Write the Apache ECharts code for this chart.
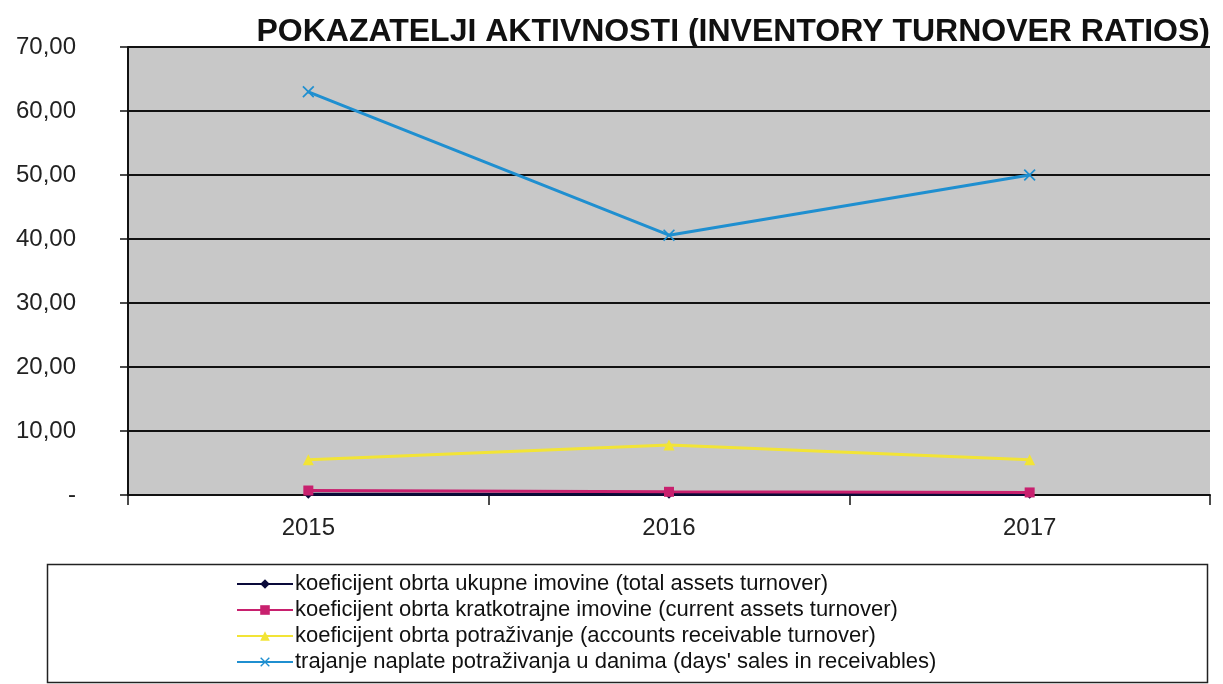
<!DOCTYPE html>
<html><head><meta charset="utf-8">
<script src="https://cdn.jsdelivr.net/npm/echarts@6/dist/echarts.min.js"></script>
<style>html,body{margin:0;padding:0;background:#fff}#c{width:1223px;height:684px}</style>
</head><body><div id="c"></div>
<script>
const title = 'POKAZATELJI AKTIVNOSTI (INVENTORY TURNOVER RATIOS)';
const categories = ['2015', '2016', '2017'];
const seriesNames = [
  'koeficijent obrta ukupne imovine (total assets turnover)',
  'koeficijent obrta kratkotrajne imovine (current assets turnover)',
  'koeficijent obrta potraživanje (accounts receivable turnover)',
  "trajanje naplate potraživanja u danima (days' sales in receivables)"
];
const totalAssets = [0.1, 0.1, 0.1];
const currentAssets = [0.7, 0.5, 0.4];
const receivableTurnover = [5.5, 7.8, 5.5];
const daysSales = [63.0, 40.6, 50.0];

const colors = ['#0a0a3a', '#c8206e', '#f2e436', '#1f8fd0'];
const xSym = 'path://M0,1L1,0L5,4L9,0L10,1L6,5L10,9L9,10L5,6L1,10L0,9L4,5Z';
const symbols = ['diamond', 'rect', 'triangle', xSym];
const sizes = [9, 10, 11, 12];
const dataSets = [totalAssets, currentAssets, receivableTurnover, daysSales];

const chart = echarts.init(document.getElementById('c'));
const font = "'Liberation Sans', Arial, sans-serif";
chart.setOption({
  animation: false,
  backgroundColor: '#ffffff',
  title: {
    text: title, right: 8, top: 11,
    textStyle: { fontFamily: font, fontWeight: 'bold', fontSize: 32, color: '#111' }
  },
  grid: { left: 128, right: 13, top: 47, bottom: 189, show: true, backgroundColor: '#c8c8c8', borderWidth: 0 },
  xAxis: {
    type: 'category', data: categories, boundaryGap: true,
    axisLine: { lineStyle: { color: '#111', width: 2 } },
    axisTick: { show: true, length: 10, lineStyle: { color: '#111', width: 1.5 } },
    axisLabel: { fontFamily: font, fontSize: 24, color: '#222', margin: 21 }
  },
  yAxis: {
    type: 'value', min: 0, max: 70, interval: 10,
    axisLine: { show: true, lineStyle: { color: '#111', width: 2 } },
    axisTick: { show: true, length: 8, lineStyle: { color: '#111', width: 1.5 } },
    splitLine: { lineStyle: { color: '#111', width: 2 } },
    axisLabel: {
      fontFamily: font, fontSize: 24, color: '#222', margin: 52,
      formatter: v => v === 0 ? '-' : v.toFixed(2).replace('.', ',')
    }
  },
  legend: {
    orient: 'vertical', left: 231, top: 568, height: 112, itemGap: 4, itemWidth: 56, itemHeight: 12,
    textStyle: { fontFamily: font, fontSize: 22, lineHeight: 22, color: '#111', padding: [0, 0, 0, -3] },
    data: seriesNames
  },
  graphic: [{
    type: 'rect', left: 45, top: 562, shape: { width: 1160, height: 118 },
    style: { fill: 'none', stroke: '#222', lineWidth: 1.5 }, silent: true, z: 0
  }],
  series: seriesNames.map((n, i) => ({
    name: n, type: 'line', data: dataSets[i], symbol: symbols[i], symbolSize: sizes[i],
    showSymbol: true,
    lineStyle: { color: colors[i], width: 3 },
    itemStyle: { color: colors[i] },
    z: 2 + i
  }))
});
</script></body></html>
